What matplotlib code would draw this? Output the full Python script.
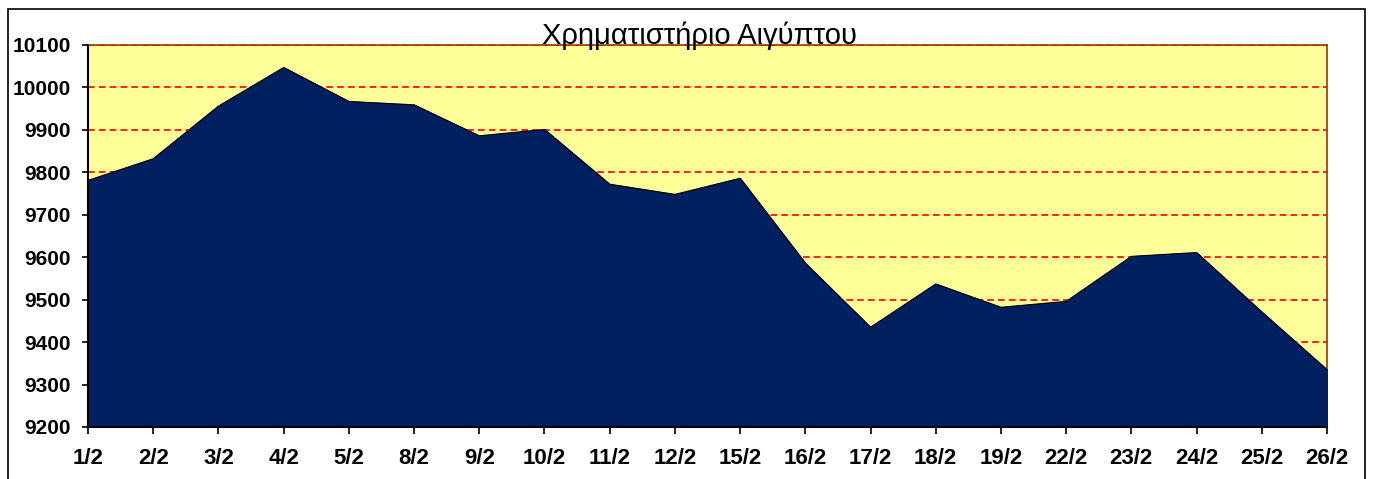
import numpy as np
import matplotlib.pyplot as plt
from matplotlib.patches import Rectangle

plt.rcParams['font.family'] = ['Liberation Sans', 'DejaVu Sans']

dates = ['1/2', '2/2', '3/2', '4/2', '5/2', '8/2', '9/2', '10/2', '11/2', '12/2',
         '15/2', '16/2', '17/2', '18/2', '19/2', '22/2', '23/2', '24/2', '25/2', '26/2']
index_values = [9781, 9832, 9956, 10047, 9967, 9959, 9886, 9901, 9772, 9748,
                9786, 9586, 9435, 9537, 9482, 9496, 9602, 9611, 9471, 9335]
y_ticks = list(range(9200, 10101, 100))

fig = plt.figure(figsize=(13.73, 4.79), dpi=100)
fig.patch.set_facecolor('white')
# outer chart border
fig.patches.append(Rectangle((8 / 1373, -0.05), (1365 - 8) / 1373, 1 - 9 / 479 + 0.05,
                             transform=fig.transFigure, fill=False,
                             edgecolor='black', linewidth=1.2))

ax = fig.add_axes([88 / 1373, 1 - 427 / 479, (1327 - 88) / 1373, (427 - 45) / 479])
ax.set_facecolor('#FFFF99')

x = np.arange(len(dates))
ax.fill_between(x, index_values, 9200, color='#002060', zorder=3)
ax.plot(x, index_values, color='black', linewidth=0.8, zorder=4)

ax.set_xlim(0, len(dates) - 1)
ax.set_ylim(9200, 10100)
ax.set_xticks(x)
ax.set_xticklabels(dates, fontsize=16, fontweight='bold')
ax.set_yticks(y_ticks)
ax.set_yticklabels([str(v) for v in y_ticks], fontsize=15, fontweight='bold')
ax.tick_params(axis='x', direction='out', length=5, width=1.2, color='black', pad=10)
ax.tick_params(axis='y', direction='out', length=4.5, width=1.2, color='black', pad=8)

ax.yaxis.grid(True, color='red', linestyle=(0, (4, 2.5)), linewidth=1.2, zorder=1)
ax.set_axisbelow(True)

for s in ['top', 'right']:
    ax.spines[s].set_color('#993300')
    ax.spines[s].set_linewidth(1.2)
for s in ['left', 'bottom']:
    ax.spines[s].set_color('black')
    ax.spines[s].set_linewidth(1.5)
    ax.spines[s].set_zorder(5)

fig.text(699 / 1373, 1 - 36 / 479, 'Χρηματιστήριο Αιγύπτου', fontsize=21,
         ha='center', va='center', zorder=10)

plt.savefig('out.png', dpi=100)
